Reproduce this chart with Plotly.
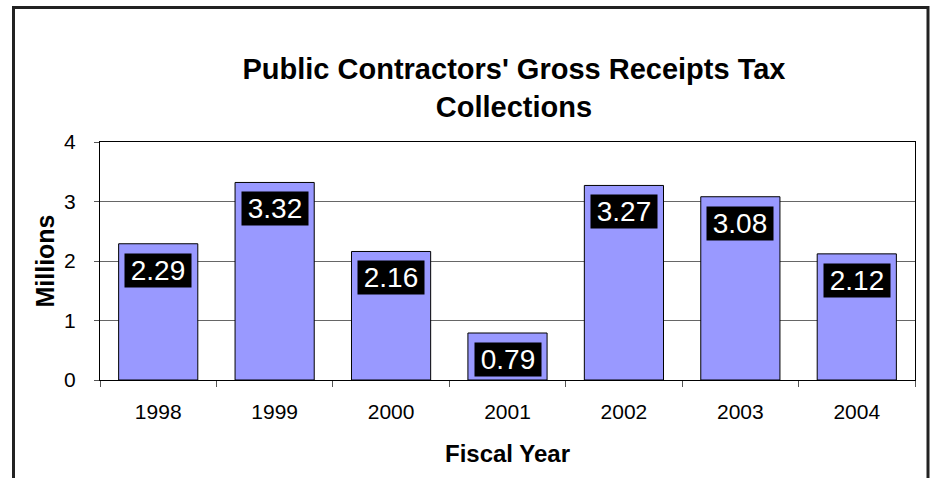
import plotly.graph_objects as go

years = ["1998", "1999", "2000", "2001", "2002", "2003", "2004"]
collections = [2.29, 3.32, 2.16, 0.79, 3.27, 3.08, 2.12]
y_ticks = [0, 1, 2, 3, 4]
title_text = "Public Contractors' Gross Receipts Tax<br>Collections"
x_title = "Fiscal Year"
y_title = "Millions"

FONT = "Liberation Sans, Arial, sans-serif"
W, H = 933, 478
L, R, T, B = 100, 18, 142, 98
pw, ph = W - L - R, H - T - B

def px_to_paper_x(px):
    return (px - L) / pw

def px_to_paper_y(py):
    return (H - B - py) / ph

pos = list(range(len(years)))
boundaries = [p - 0.5 for p in pos] + [pos[-1] + 0.5]

fig = go.Figure()
fig.add_trace(go.Bar(
    x=pos, y=collections,
    marker=dict(color="#9999FF", line=dict(color="black", width=1)),
    width=0.68,
    customdata=years,
    hovertemplate="%{customdata}: %{y}<extra></extra>",
))

for p, v in zip(pos, collections):
    fig.add_annotation(
        x=p, y=v, xref="x", yref="y",
        text=f"{v:.2f}", showarrow=False,
        yanchor="top", xanchor="center", yshift=-9,
        font=dict(family=FONT, size=28, color="white"),
        bgcolor="black", width=64, height=31, borderpad=1,
    )

# outer frame
fig.add_shape(
    type="rect", xref="paper", yref="paper",
    x0=px_to_paper_x(13.5), x1=px_to_paper_x(928),
    y0=px_to_paper_y(495), y1=px_to_paper_y(7.5),
    line=dict(color="#222222", width=3), fillcolor="rgba(0,0,0,0)",
    layer="below",
)

fig.update_layout(
    width=W, height=H,
    margin=dict(l=L, r=R, t=T, b=B, pad=0),
    paper_bgcolor="white", plot_bgcolor="white",
    font=dict(family=FONT, color="black"),
    showlegend=False,
    title=dict(
        text=title_text, xref="container", x=514 / W, xanchor="center",
        yref="container", y=1 - 79 / H, yanchor="top",
        font=dict(family=FONT, size=29, color="black", weight="bold"),
    ),
    bargap=0.32,
    xaxis=dict(
        range=[-0.5, len(years) - 0.5], tickvals=pos, ticktext=years,
        showline=True, linecolor="black", linewidth=1, mirror=True,
        ticks="", tickangle=0, ticklabelstandoff=13,
        minor=dict(tickmode="array", tickvals=boundaries, ticks="outside",
                   ticklen=6, tickcolor="#555", showgrid=False),
        tickfont=dict(size=21, family=FONT), showgrid=False, zeroline=False,
        title=dict(text=x_title, font=dict(size=24, family=FONT, weight="bold"), standoff=22),
    ),
    yaxis=dict(
        range=[0, 4], tickvals=y_ticks, showline=True, linecolor="black", linewidth=1,
        mirror=True, ticks="outside", ticklen=5, tickcolor="#555",
        tickfont=dict(size=21, family=FONT), showgrid=True, gridcolor="#666666", gridwidth=1,
        zeroline=False, ticklabelstandoff=14,
        title=dict(text=y_title, font=dict(size=25, family=FONT, weight="bold"), standoff=2),
    ),
)

fig.write_html("out.html", config={"displayModeBar": False},
               post_script="document.body.style.margin='0';")
